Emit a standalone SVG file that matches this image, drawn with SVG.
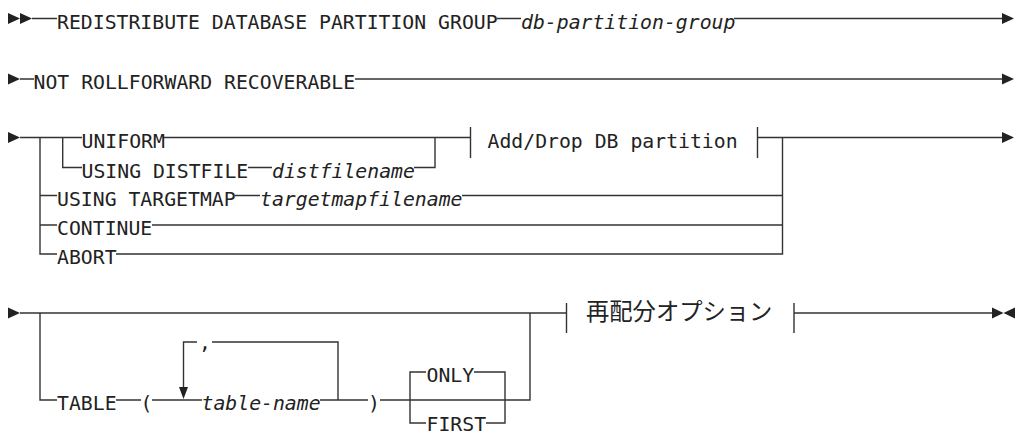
<svg xmlns="http://www.w3.org/2000/svg" width="1019" height="436" viewBox="0 0 1019 436">
<style>
.ln{fill:none;stroke:#333;stroke-width:1.4}
.ah{fill:#222;stroke:none}
.t{font-family:"DejaVu Sans Mono","Liberation Mono",monospace;font-size:19.8px;fill:#222}
.i{font-style:italic}
.j{font-family:"Noto Sans CJK JP","Noto Sans CJK SC",sans-serif;font-size:23.3px;fill:#222}
</style>
<rect width="1019" height="436" fill="#fff"/>
<g id="connectors">
<polygon class="ah" points="8,13 8,24 20,18.5"/>
<polygon class="ah" points="20,13 20,24 32,18.5"/>
<path class="ln" d="M32,18.5H57 M497,18.5H521 M734,18.5H1003"/>
<polygon class="ah" points="1002,13 1002,24 1014,18.5"/>
<polygon class="ah" points="8,73.5 8,84.5 20,79"/>
<path class="ln" d="M20,79H34 M355,79H1003"/>
<polygon class="ah" points="1002,73.5 1002,84.5 1014,79"/>
<polygon class="ah" points="8,132 8,143 20,137.5"/>
<path class="ln" d="M20,137.5H82 M163,137.5H470.5"/>
<path class="ln" d="M40,137.5V254H57 M40,195.5H57 M40,225H57"/>
<path class="ln" d="M62.7,137.5V167.5H82 M248,167.5H272 M414,167.5H435V137.5"/>
<path class="ln" d="M235,195.5H260 M462,195.5H782.5 M152,225H782.5 M116,254H782.5V137.5"/>
<path class="ln" d="M470.5,127V158 M757.5,127V158 M757.5,137.5H1003"/>
<polygon class="ah" points="1002,132 1002,143 1014,137.5"/>
<polygon class="ah" points="8,307.5 8,318.5 20,313"/>
<path class="ln" d="M20,313H566.5 M40,313V400H57 M116,400H141 M152,400H202"/>
<path class="ln" d="M183.5,388V342H197 M212,342H338V400 M320,400H368 M380,400H530V313"/>
<polygon class="ah" points="179,387 188,387 183.5,399"/>
<path class="ln" d="M410,400V372H426 M410,400V423H426 M474,372H505V423H486"/>
<path class="ln" d="M566.5,303V333 M794,303V333 M794,313H992"/>
<polygon class="ah" points="992,307.5 992,318.5 1003.5,313"/>
<polygon class="ah" points="1015,307.5 1015,318.5 1003.5,313"/>
</g>
<g id="n-redistribute"><text class="t" x="57" y="28.5">REDISTRIBUTE DATABASE PARTITION GROUP</text></g>
<g id="n-dbpg"><text class="t i" x="521" y="28.5">db-partition-group</text></g>
<g id="n-notroll"><text class="t" x="33.5" y="89">NOT ROLLFORWARD RECOVERABLE</text></g>
<g id="n-uniform"><text class="t" x="81.5" y="147.5">UNIFORM</text></g>
<g id="n-usingdist"><text class="t" x="81.5" y="177.5">USING DISTFILE</text></g>
<g id="n-distfilename"><text class="t i" x="272" y="177.5">distfilename</text></g>
<g id="n-adddrop"><text class="t" x="487.5" y="147.5">Add/Drop DB partition</text></g>
<g id="n-usingtarget"><text class="t" x="57" y="205.5">USING TARGETMAP</text></g>
<g id="n-targetmapfilename"><text class="t i" x="260" y="205.5">targetmapfilename</text></g>
<g id="n-continue"><text class="t" x="57" y="235">CONTINUE</text></g>
<g id="n-abort"><text class="t" x="57" y="264">ABORT</text></g>
<g id="n-table"><text class="t" x="57" y="410">TABLE</text></g>
<g id="n-lparen"><text class="t" x="140.5" y="410">(</text></g>
<g id="n-comma"><text class="t" x="199" y="349">,</text></g>
<g id="n-tablename"><text class="t i" x="201.5" y="410">table-name</text></g>
<g id="n-rparen"><text class="t" x="368" y="410">)</text></g>
<g id="n-only"><text class="t" x="426.5" y="382">ONLY</text></g>
<g id="n-first"><text class="t" x="426.5" y="431">FIRST</text></g>
<g id="n-opts"><text class="j" x="586" y="320">再配分オプション</text></g>
</svg>
